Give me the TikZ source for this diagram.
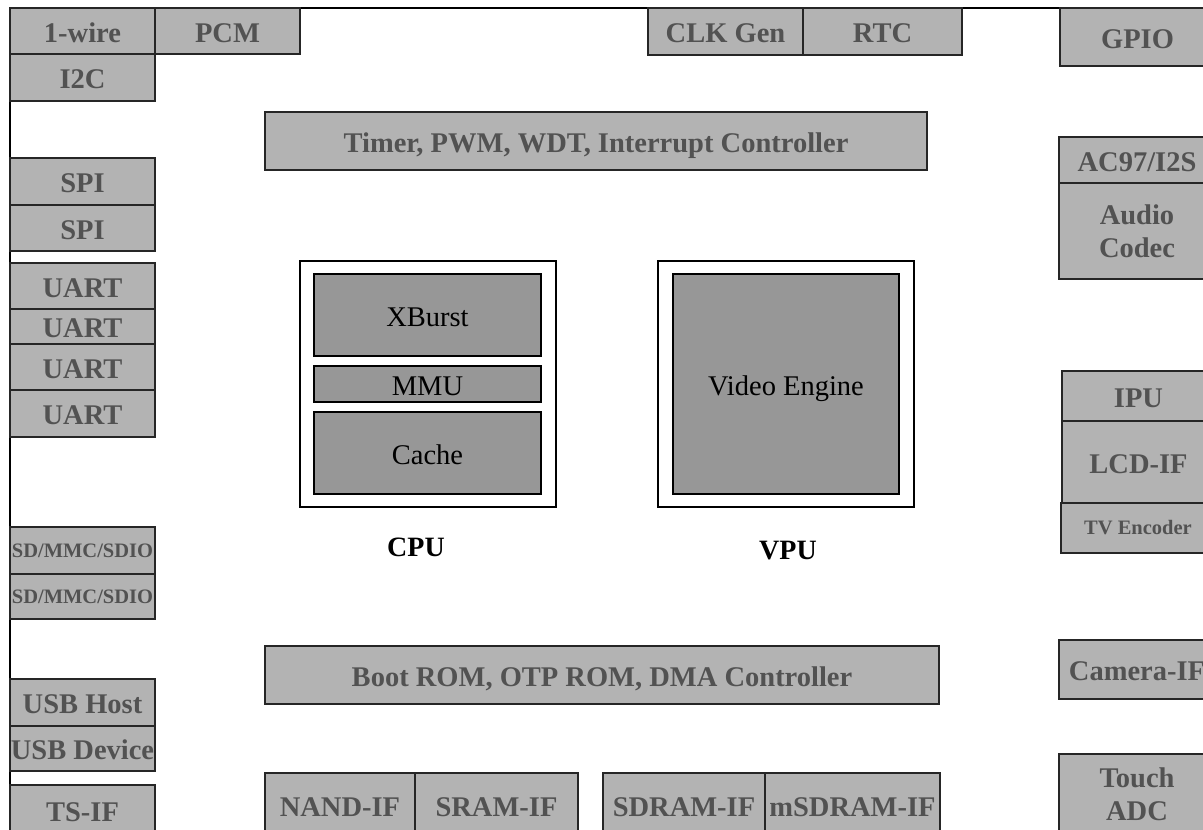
\documentclass[tikz,border=0pt]{standalone}
\usepackage{fontspec}
\setmainfont{Liberation Serif}
\definecolor{boxgray}{HTML}{B3B3B3}
\definecolor{ingray}{HTML}{979797}
\definecolor{txtgray}{HTML}{525252}
\newcommand{\rbox}[7][gbox]{\node[#1,minimum width={(#5-#3)*1pt},minimum height={(#6-#4)*1pt}] (#2) at ({(#3+#5)/2},{(#4+#6)/2}) {#7};}
\tikzset{
  gbase/.style={draw=black!85, line width=1.2pt, fill=boxgray, text=txtgray, inner sep=0pt, outer sep=0pt, align=center,
    font=\bfseries\fontsize{28.5}{33}\selectfont},
  gbox/.style={gbase, text height=24pt, text depth=2pt},
  gmulti/.style={gbase},
  gsmall/.style={gbase, font=\bfseries\fontsize{20.5}{24}\selectfont},
  ibox/.style={draw=black, line width=1.6pt, fill=ingray, text=black, inner sep=0pt, outer sep=0pt,
    text height=24pt, text depth=1pt, font=\fontsize{28.5}{33}\selectfont},
  frm/.style={draw=black, line width=2.5pt, fill=white, inner sep=0pt, outer sep=0pt},
  lbl/.style={text=black, inner sep=0pt, font=\bfseries\fontsize{28}{32}\selectfont},
}
\begin{document}
\begin{tikzpicture}[x=1pt,y=-1pt]
\useasboundingbox (0,0) rectangle (1203,830);
\clip (0,0) rectangle (1203,830);
\fill[white] (0,0) rectangle (1203,830);
\draw[line width=2pt] (10,8) rectangle (1225,850);
% left column
\rbox{wire}{10}{8}{155}{54}{1-wire}
\rbox{pcm}{155}{8}{300}{54}{PCM}
\rbox{i2c}{10}{54}{155}{101}{I2C}
\rbox{spia}{10}{158}{155}{205}{SPI}
\rbox{spib}{10}{205}{155}{251}{SPI}
\rbox{uarta}{10}{263}{155}{309}{UART}
\rbox{uartb}{10}{309}{155}{344}{UART}
\rbox{uartc}{10}{344}{155}{390}{UART}
\rbox{uartd}{10}{390}{155}{437}{UART}
\rbox[gsmall]{sda}{10}{527}{155}{574}{SD/MMC/SDIO}
\rbox[gsmall]{sdb}{10}{574}{155}{619}{SD/MMC/SDIO}
\rbox{usbh}{10}{679}{155}{726}{USB Host}
\rbox{usbd}{10}{726}{155}{771}{USB Device}
\rbox{tsif}{10}{785}{155}{835}{TS-IF}
% top
\rbox{clk}{648}{8}{803}{55}{CLK Gen}
\rbox{rtc}{803}{8}{962}{55}{RTC}
\rbox{gpio}{1060}{8}{1215}{66}{GPIO}
\rbox{timer}{265}{112}{927}{170}{Timer, PWM, WDT, Interrupt Controller}
% right column
\rbox{ac97}{1059}{137}{1215}{183}{AC97/I2S}
\rbox[gmulti]{audio}{1059}{183}{1215}{279}{Audio\\Codec}
\rbox{ipu}{1062}{371}{1215}{421}{IPU}
\rbox{lcd}{1062}{421}{1215}{503}{LCD-IF}
\rbox[gsmall]{tv}{1061}{503}{1215}{553}{TV Encoder}
\rbox{cam}{1059}{640}{1215}{699}{Camera-IF}
\rbox[gmulti]{touch}{1059}{754}{1215}{835}{Touch\\ADC}
% bottom
\rbox{boot}{265}{646}{939}{704}{Boot ROM, OTP ROM, DMA Controller}
\rbox{nand}{265}{773}{415}{837}{NAND-IF}
\rbox{sram}{415}{773}{578}{837}{SRAM-IF}
\rbox{sdram}{603}{773}{765}{837}{SDRAM-IF}
\rbox{msdram}{765}{773}{940}{837}{mSDRAM-IF}
% CPU
\rbox[frm]{cpu}{300}{261}{556}{507}{}
\rbox[ibox]{xburst}{314}{274}{541}{356}{XBurst}
\rbox[ibox]{mmu}{314}{366}{541}{402}{MMU}
\rbox[ibox]{cache}{314}{412}{541}{494}{Cache}
\node[lbl] (cpulbl) at (416,547) {CPU};
% VPU
\rbox[frm]{vpu}{658}{261}{914}{507}{}
\rbox[ibox]{video}{673}{274}{899}{494}{Video Engine}
\node[lbl] (vpulbl) at (788,551) {VPU};
\end{tikzpicture}
\end{document}
